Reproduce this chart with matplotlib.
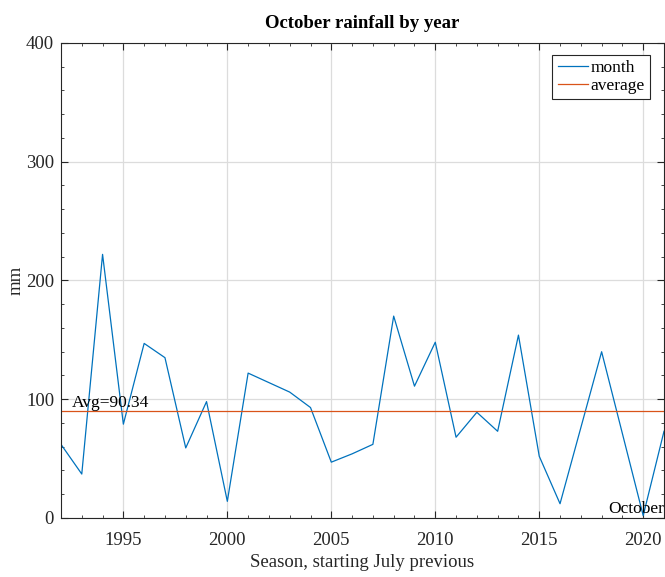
import matplotlib.pyplot as plt
import numpy as np
from matplotlib.ticker import MultipleLocator

years = list(range(1992, 2022))
rain = [62, 37, 222, 79, 147, 135, 59, 98, 14, 122,
        114, 106, 93, 47, 54, 62, 170, 111, 148, 68,
        89, 73, 154, 52, 12, 76, 140, 71, 2, 73]
avg = 90.34

plt.rcParams['font.family'] = ['Liberation Serif', 'DejaVu Serif']

fig = plt.figure(figsize=(6.65, 5.77), dpi=100)
ax = fig.add_axes([0.0917, 0.1023, 0.9068, 0.8232])

ax.plot(years, rain, color='#0072BD', lw=0.9, label='month')
ax.axhline(avg, color='#D95319', lw=0.9, label='average')
ax.text(1992.5, avg + 3, 'Avg=%.2f' % avg, fontsize=12.5)
ax.text(2021, 0.5, 'October', fontsize=12.5, ha='right', va='bottom')

ax.set_xlim(1992, 2021)
ax.set_ylim(0, 400)
ax.xaxis.set_major_locator(MultipleLocator(5))
ax.xaxis.set_minor_locator(MultipleLocator(1))
ax.yaxis.set_major_locator(MultipleLocator(100))
ax.yaxis.set_minor_locator(MultipleLocator(20))
ax.tick_params(which='both', direction='in', top=True, right=True, labelsize=13.5, colors='#262626')
ax.tick_params(which='major', length=5)
ax.tick_params(which='minor', length=2.5)
ax.tick_params(axis='x', which='major', pad=10)
ax.tick_params(axis='y', which='major', pad=5)
ax.grid(True, which='major', color='#dcdcdc', lw=0.9)
for s in ax.spines.values():
    s.set_color('#262626')

ax.set_title('October rainfall by year', fontsize=13.5, fontweight='bold', pad=11)
ax.set_xlabel('Season, starting July previous', fontsize=13.5, color='#262626', labelpad=4)
ax.set_ylabel('mm', fontsize=13.5, color='#262626', labelpad=1)

leg = ax.legend(loc='upper right', fontsize=12.5, fancybox=False, framealpha=1,
                edgecolor='#262626', borderpad=0.3, handlelength=1.75, handletextpad=0.15,
                bbox_to_anchor=(0.977, 0.975), borderaxespad=0, labelspacing=0.1)
leg.get_frame().set_linewidth(0.8)

fig.savefig('out.png', dpi=100)
